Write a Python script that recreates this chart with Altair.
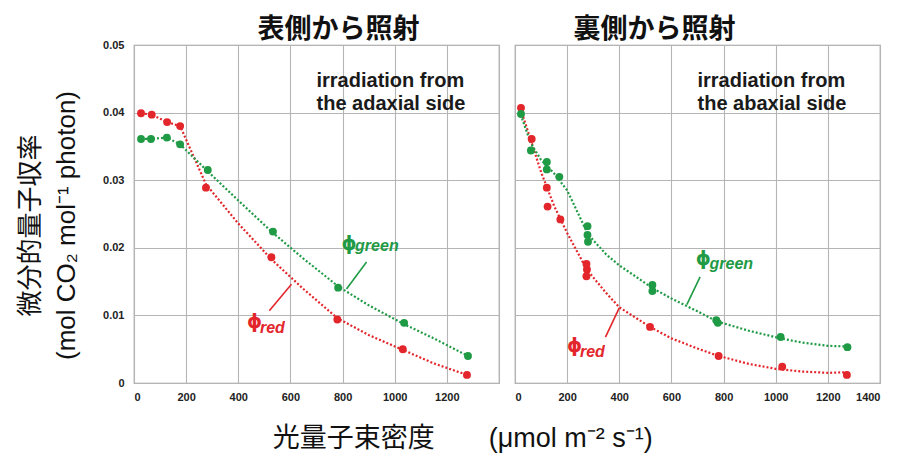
import altair as alt
import pandas as pd

# ---------------- data ----------------
# Left panel: irradiation from the adaxial side (表側から照射)
L_red_x = [27, 68, 127, 177, 276, 527, 780, 1031, 1277]
L_red_y = [0.0399, 0.0397, 0.0386, 0.0380, 0.0289, 0.0186, 0.0094, 0.0050, 0.0012]
L_green_x = [27, 65, 126, 177, 283, 533, 783, 1036, 1281]
L_green_y = [0.0361, 0.0361, 0.0363, 0.0353, 0.0315, 0.0224, 0.0141, 0.0089, 0.0040]

# Right panel: irradiation from the abaxial side (裏側から照射)
R_red_x = [23, 64, 122, 125, 174, 274, 276, 274, 518, 781, 1025, 1273]
R_red_y = [0.0407, 0.0361, 0.0289, 0.0261, 0.0242, 0.0176, 0.0168, 0.0158, 0.0083, 0.0040, 0.0024, 0.0012]
R_green_x = [23, 61, 122, 122, 170, 278, 278, 280, 527, 527, 772, 778, 1019, 1275]
R_green_y = [0.0398, 0.0344, 0.0327, 0.0316, 0.0305, 0.0232, 0.0219, 0.0209, 0.0145, 0.0136, 0.0093, 0.0089, 0.0068, 0.0053]

# dotted fitted curves
L_red_cx = [27, 68, 127, 177, 276, 400, 527, 650, 780, 900, 1031, 1150, 1277]
L_red_cy = [0.0399, 0.0397, 0.0386, 0.0380, 0.0294, 0.0236, 0.0183, 0.0139, 0.0096, 0.0071, 0.0049, 0.0029, 0.0012]
L_green_cx = [27, 65, 126, 177, 283, 400, 533, 650, 783, 900, 1036, 1150, 1281]
L_green_cy = [0.0361, 0.0361, 0.0363, 0.0353, 0.0313, 0.0270, 0.0222, 0.0184, 0.0143, 0.0115, 0.0087, 0.0066, 0.0040]
R_red_cx = [22, 60, 100, 150, 200, 275, 350, 400, 518, 600, 700, 781, 900, 1000, 1100, 1200, 1275]
R_red_cy = [0.0405, 0.0360, 0.0312, 0.0262, 0.0222, 0.0168, 0.0133, 0.0112, 0.0083, 0.0066, 0.0051, 0.0040, 0.0028, 0.0021, 0.0017, 0.0015, 0.0016]
R_green_cx = [22, 60, 100, 150, 200, 280, 350, 400, 529, 600, 700, 775, 900, 1019, 1100, 1200, 1275]
R_green_cy = [0.0397, 0.0355, 0.0330, 0.0310, 0.0285, 0.0220, 0.0190, 0.0174, 0.0140, 0.0125, 0.0106, 0.0091, 0.0077, 0.0066, 0.0060, 0.0055, 0.0054]

# leader lines of the φ labels: (x, y) -> (x2, y2)
leader_panel = ["L", "L", "R", "R"]
leader_series = ["green", "red", "green", "red"]
leader_x = [892, 604, 710, 400]
leader_y = [0.0179, 0.0146, 0.0157, 0.0111]
leader_x2 = [815, 519, 659, 347]
leader_y2 = [0.0139, 0.0107, 0.0116, 0.0068]

# φ labels (φ glyph centre, subscript start / baseline)
lab_panel = ["L", "L", "R", "R"]
lab_series = ["green", "red", "green", "red"]
lab_sub = ["green", "red", "green", "red"]
phi_x = [825, 462, 722, 228]
phi_y = [0.0206, 0.0090, 0.0184, 0.0055]
sub_x = [848, 483, 746, 249]
sub_y = [0.0195, 0.0074, 0.0169, 0.0039]

# annotation text
note_L = ["irradiation from", "the adaxial side"]
note_R = ["irradiation from", "the abaxial side"]
note_x = [700, 700]
note_y = [0.0447, 0.0413]

titles = {"L": "表側から照射", "R": "裏側から照射"}
y_title = ["微分的量子収率", "(mol CO₂ mol⁻¹ photon)"]
x_title = "光量子束密度　　(μmol m⁻² s⁻¹)"
x_ticks = [0, 200, 400, 600, 800, 1000, 1200, 1400]
y_ticks = [0, 0.01, 0.02, 0.03, 0.04, 0.05]

# ---------------- tables ----------------
def rows(panel, series, xs, ys):
    return [{"panel": panel, "series": series, "x": x, "y": y, "i": i}
            for i, (x, y) in enumerate(zip(xs, ys))]

pts = pd.DataFrame(rows("L", "red", L_red_x, L_red_y) + rows("L", "green", L_green_x, L_green_y)
                   + rows("R", "red", R_red_x, R_red_y) + rows("R", "green", R_green_x, R_green_y))
crv = pd.DataFrame(rows("L", "red", L_red_cx, L_red_cy) + rows("L", "green", L_green_cx, L_green_cy)
                   + rows("R", "red", R_red_cx, R_red_cy) + rows("R", "green", R_green_cx, R_green_cy))
lead = pd.DataFrame({"panel": leader_panel, "series": leader_series, "x": leader_x,
                     "y": leader_y, "x2": leader_x2, "y2": leader_y2})
labs = pd.DataFrame({"panel": lab_panel, "series": lab_series, "sub": lab_sub,
                     "px": phi_x, "py": phi_y, "sx": sub_x, "sy": sub_y, "phi": ["ϕ"] * 4})
notes = pd.DataFrame({"panel": ["L", "L", "R", "R"], "text": note_L + note_R,
                      "x": note_x + note_x, "y": note_y + note_y})

RED = "#e3262b"
GREEN = "#1f9a45"
color = alt.Color("series:N", scale=alt.Scale(domain=["red", "green"], range=[RED, GREEN]), legend=None)
lead_color = alt.Color("series:N", scale=alt.Scale(domain=["red", "green"], range=["#d81e4a", "#18804a"]), legend=None)

xs = alt.Scale(domain=[0, 1400], nice=False)
ys = alt.Scale(domain=[0, 0.05], nice=False)

LABEL_FONT = "Liberation Sans"


def panel(pid, dx, show_y, t_offset):
    if pid == "L":
        xaxis = alt.Axis(values=x_ticks, title=None, labelExpr="datum.value == 1400 ? '' : datum.label",
                         format="d")
    else:
        xaxis = alt.Axis(values=x_ticks, title=None, format="d")
    if show_y:
        yaxis = alt.Axis(values=y_ticks, format=".2~f", title=y_title, titleFontSize=26,
                         titleFontWeight="normal", titleFont="Liberation Sans, Noto Sans CJK JP",
                         titleLineHeight=36, titlePadding=23, labelPadding=10, titleColor="#111",
                         titleY=180)
    else:
        yaxis = alt.Axis(values=y_ticks, labels=False, title=None)

    Y = alt.Y("y:Q", scale=ys, axis=yaxis)

    f = alt.datum.panel == pid
    lines = alt.Chart(crv).mark_line(strokeDash=[2, 2], strokeWidth=2.2).encode(
        x=alt.X("x:Q", scale=xs, axis=xaxis), y=Y, color=color, detail="series:N", order="i:Q"
    ).transform_filter(f)
    points = alt.Chart(pts).mark_circle(size=62, opacity=1).encode(
        x="x:Q", y="y:Q", color=color
    ).transform_filter(f)
    leaders = alt.Chart(lead).mark_rule(strokeWidth=1.6).encode(
        x="x:Q", y="y:Q", x2="x2:Q", y2="y2:Q", color=lead_color
    ).transform_filter(f)
    phis = alt.Chart(labs).mark_text(align="center", baseline="middle", fontSize=19,
                                     font="DejaVu Sans", fontWeight="bold").encode(
        x="px:Q", y="py:Q", text="phi:N", color=color
    ).transform_filter(f)
    subs = alt.Chart(labs).mark_text(align="left", baseline="alphabetic", fontSize=16,
                                     font="Liberation Sans", fontWeight="bold", fontStyle="italic").encode(
        x="sx:Q", y="sy:Q", text="sub:N", color=color
    ).transform_filter(f)
    note = alt.Chart(notes).mark_text(align="left", baseline="middle", fontSize=20,
                                      font="Liberation Sans", fontWeight="bold", color="#1a1a1a").encode(
        x="x:Q", y="y:Q", text="text:N"
    ).transform_filter(f)

    return alt.layer(lines, points, leaders, phis, subs, note).properties(
        width=365, height=338,
        title=alt.TitleParams(titles[pid], fontSize=27, font="Noto Sans CJK JP", fontWeight="bold",
                              anchor="middle", dx=dx, offset=t_offset, color="#111", frame="group")
    )


chart = alt.hconcat(panel("L", 22, True, -5), panel("R", -43, False, 1), spacing=14).properties(
    title=alt.TitleParams(x_title, orient="bottom", anchor="middle", fontSize=27, fontWeight="normal",
                          font="Liberation Sans, Noto Sans CJK JP", offset=23, color="#111", dx=14),
    background="white",
    padding={"left": 8, "top": 7, "right": 5, "bottom": 3},
).configure_view(stroke="#999999", strokeWidth=1.2).configure_axis(
    grid=True, gridColor="#b5b5b5", gridWidth=1.1, domain=False, ticks=False,
    labelFont=LABEL_FONT, labelFontWeight="bold", labelFontSize=11, labelColor="#222", labelPadding=8,
).configure_concat(spacing=14)

chart.save("out.html", embed_options={"renderer": "svg", "actions": False})
